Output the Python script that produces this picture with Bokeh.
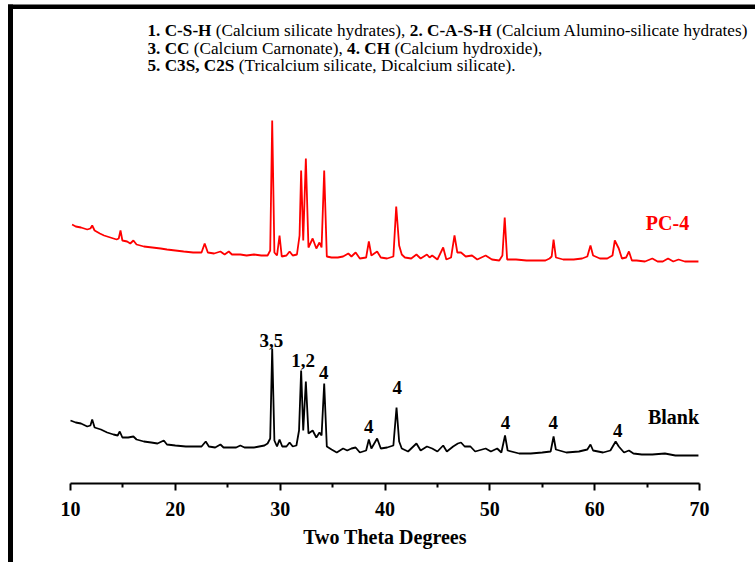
from bokeh.plotting import figure
from bokeh.models import Range1d, FixedTicker, Label, BoxAnnotation, ColumnDataSource
from bokeh.core.properties import value
from bokeh.embed import file_html
from bokeh.resources import INLINE

# ---------------- data ----------------
pc4_theta = [10.15, 10.5, 11.0, 11.6, 11.9, 12.07, 12.3, 12.8, 13.2, 13.8, 14.4, 14.6, 14.77, 14.95,
             15.4, 15.7, 16.0, 16.3, 17.0, 17.8, 18.6, 19.2, 20.0, 20.8, 21.7, 22.5, 22.8, 23.1,
             23.7, 24.3, 24.7, 25.1, 25.4, 26.2, 26.8, 27.5, 28.2, 28.8, 29.05, 29.24, 29.45, 29.7,
             29.94, 30.15, 30.6, 30.9, 31.2, 31.6, 31.85, 32.0, 32.2, 32.45, 32.7, 33.1, 33.45, 33.75,
             33.95, 34.2, 34.45, 34.9, 35.5, 36.0, 36.5, 36.8, 37.2, 37.6, 38.2, 38.46, 38.7, 39.25,
             39.6, 40.2, 40.8, 41.07, 41.35, 41.6, 41.9, 42.5, 43.0, 43.4, 44.0, 44.25, 44.5, 45.0,
             45.55, 45.85, 46.3, 46.63, 46.9, 47.25, 47.7, 48.3, 48.8, 49.6, 50.2, 50.9, 51.2, 51.42,
             51.65, 52.5, 53.5, 54.5, 55.3, 55.7, 55.9, 56.08, 56.3, 57.0, 58.0, 58.8, 59.3, 59.6,
             59.85, 60.5, 61.2, 61.7, 61.92, 62.3, 62.6, 63.0, 63.27, 63.55, 64.0, 64.8, 65.5, 66.0,
             66.5, 67.0, 67.5, 68.0, 68.6, 69.3, 69.9]
pc4_intensity = [259, 257, 256, 254, 255, 258, 253, 250, 248, 246, 244, 245, 253, 243,
                 242, 240, 243, 239, 237, 236, 235, 234, 233, 232, 231, 231, 240, 231,
                 230, 232, 229, 232, 229, 229, 228, 229, 228, 228, 233, 363, 231, 228,
                 248, 227, 228, 232, 228, 229, 248, 313, 243, 325, 236, 245, 235, 241,
                 236, 313, 227, 226, 226, 227, 230, 227, 231, 225, 226, 242, 228, 232,
                 226, 225, 227, 277, 238, 229, 226, 225, 229, 225, 229, 226, 228, 224,
                 236, 224, 226, 248, 231, 231, 227, 228, 224, 228, 224, 223, 228, 266,
                 224, 224, 223, 223, 223, 225, 227, 244, 226, 224, 224, 225, 227, 238,
                 228, 225, 225, 228, 243, 235, 225, 226, 232, 223, 223, 222, 225, 222,
                 222, 225, 222, 224, 222, 222, 222]

blank_theta = [10.0, 10.5, 11.0, 11.6, 11.9, 12.07, 12.3, 12.9, 13.5, 14.1, 14.5, 14.7, 14.95, 15.5,
               16.0, 16.3, 17.0, 17.7, 18.3, 18.9, 19.2, 20.0, 21.0, 21.7, 22.5, 22.9, 23.2, 23.8,
               24.3, 24.6, 25.3, 25.8, 26.2, 26.6, 27.5, 28.0, 28.5, 28.8, 29.05, 29.24, 29.45, 29.7,
               29.94, 30.2, 30.6, 30.9, 31.2, 31.55, 31.8, 32.0, 32.2, 32.45, 32.7, 33.1, 33.45, 33.75,
               33.95, 34.2, 34.45, 34.9, 35.4, 36.0, 36.4, 36.8, 37.2, 37.6, 38.2, 38.46, 38.7, 39.25,
               39.6, 40.2, 40.8, 41.1, 41.35, 41.6, 42.2, 43.0, 43.4, 44.0, 44.5, 45.0, 45.55, 45.9,
               46.5, 46.95, 47.25, 47.6, 48.15, 48.6, 49.6, 50.1, 50.7, 51.1, 51.45, 51.7, 52.8, 53.9,
               55.0, 55.8, 56.08, 56.3, 57.3, 58.5, 59.3, 59.6, 59.85, 60.8, 61.5, 62.0, 62.3, 62.8,
               63.27, 63.7, 64.5, 65.5, 66.7, 67.7, 68.8, 69.9]
blank_intensity = [63, 61, 60, 57, 58, 64, 56, 54, 51, 49, 48, 52, 46, 46,
                   47, 44, 42, 41, 40, 43, 39, 38, 37, 37, 37, 42, 37, 36,
                   39, 36, 36, 36, 38, 36, 36, 37, 38, 40, 45, 135, 43, 37,
                   44, 37, 37, 41, 37, 38, 53, 113, 53, 102, 50, 53, 46, 51,
                   48, 100, 37, 34, 31, 35, 33, 35, 36, 31, 33, 44, 35, 45,
                   35, 36, 38, 76, 42, 35, 32, 40, 33, 37, 35, 32, 38, 32,
                   37, 40, 41, 37, 37, 32, 35, 32, 35, 31, 48, 33, 30, 30,
                   31, 32, 47, 34, 31, 32, 34, 39, 33, 31, 33, 42, 37, 31,
                   33, 30, 29, 29, 30, 28, 28, 28]

peak_labels = ["3,5", "1,2", "4", "4", "4", "4", "4", "4"]
peak_label_theta = [29.17, 32.18, 34.16, 38.46, 41.17, 51.5, 56.05, 62.2]
peak_label_y = [143, 123, 111, 57, 96, 61, 61, 53]

series_names = ["PC-4", "Blank"]
series_colors = ["#FF0000", "#000000"]

x_ticks = [10, 20, 30, 40, 50, 60, 70]
x_minor_ticks = [15, 25, 35, 45, 55, 65]

# ---------------- layout ----------------
W, H = 755, 562
X10, X70 = 70, 699          # px of 10 and 70 degrees
SCALE = (X70 - X10) / 60.0
AXIS_Y = 483                # px of the axis line
SERIF = "Liberation Serif"

def sx(px):                  # px -> data x
    return 10 + (px - X10) / SCALE

def sy(py):                  # px -> data y
    return AXIS_Y - py

p = figure(width=W, height=H, output_backend="svg", toolbar_location=None,
           x_range=Range1d(sx(0), sx(W)),
           y_range=Range1d(sy(H), sy(0)),
           y_axis_location=None,
           min_border_left=0, min_border_right=0, min_border_top=0, min_border_bottom=0)
p.outline_line_color = None
p.xgrid.visible = False
p.ygrid.visible = False
p.background_fill_color = "white"
p.border_fill_color = "white"

ax = p.xaxis[0]
ax.fixed_location = 0
ax.bounds = (10, 70)
ax.ticker = FixedTicker(ticks=x_ticks, minor_ticks=x_minor_ticks)
ax.axis_line_width = 2
ax.axis_line_color = "black"
ax.major_tick_line_width = 2
ax.minor_tick_line_width = 2
ax.major_tick_out = 7
ax.major_tick_in = 0
ax.minor_tick_out = 4
ax.minor_tick_in = 0
ax.major_label_text_font = SERIF
ax.major_label_text_font_style = "bold"
ax.major_label_text_font_size = "20px"
ax.major_label_text_color = "black"
ax.major_label_standoff = 11
ax.axis_label = "Two Theta Degrees"
ax.axis_label_text_font = SERIF
ax.axis_label_text_font_style = "bold"
ax.axis_label_text_font_size = "20px"
ax.axis_label_text_color = "black"
ax.axis_label_standoff = 7

p.line(pc4_theta, pc4_intensity, line_color=series_colors[0], line_width=1.8)
p.line(blank_theta, blank_intensity, line_color=series_colors[1], line_width=1.8)

src = ColumnDataSource(dict(x=peak_label_theta, y=peak_label_y, t=peak_labels))
p.text(x="x", y="y", text="t", source=src, text_font=value(SERIF), text_font_style="bold",
       text_font_size="19px", text_align="center", text_baseline="middle", text_color="black")

p.add_layout(Label(x=sx(667), y=sy(222), text=series_names[0], text_font=SERIF,
                   text_font_style="bold", text_font_size="20px", text_color=series_colors[0],
                   text_align="center", text_baseline="middle"))
p.add_layout(Label(x=sx(673), y=sy(416), text=series_names[1], text_font=SERIF,
                   text_font_style="bold", text_font_size="20px", text_color=series_colors[1],
                   text_align="center", text_baseline="middle"))

# header legend text (bold / normal segments)
FS = 17.2
header = [
    (147, 30, "1. C-S-H", "bold"),
    (215.3, 30, "(Calcium silicate hydrates),", "normal"),
    (409.3, 30, "2. C-A-S-H", "bold"),
    (495.8, 30, "(Calcium Alumino-silicate hydrates)", "normal"),
    (147, 47.5, "3. CC", "bold"),
    (193.3, 47.5, "(Calcium Carnonate),", "normal"),
    (346.6, 47.5, "4. CH", "bold"),
    (393.9, 47.5, "(Calcium hydroxide),", "normal"),
    (147, 65, "5. C3S, C2S", "bold"),
    (238.3, 65, "(Tricalcium silicate, Dicalcium silicate).", "normal"),
]
for px, py, t, st in header:
    p.add_layout(Label(x=sx(px), y=sy(py), text=t, text_font=SERIF, text_font_style=st,
                       text_font_size=f"{FS}px", text_color="black",
                       text_align="left", text_baseline="alphabetic"))

# outer frame box (its left and top edges are inside the picture)
p.add_layout(BoxAnnotation(left=sx(7.5), right=sx(12.5), top=sy(4), bottom=sy(H + 5),
                           fill_color="black", fill_alpha=1.0, line_color=None))
p.add_layout(BoxAnnotation(left=sx(7.5), right=sx(W + 5), top=sy(4), bottom=sy(8.5),
                           fill_color="black", fill_alpha=1.0, line_color=None))

open("out.html", "w").write(file_html(p, INLINE))
